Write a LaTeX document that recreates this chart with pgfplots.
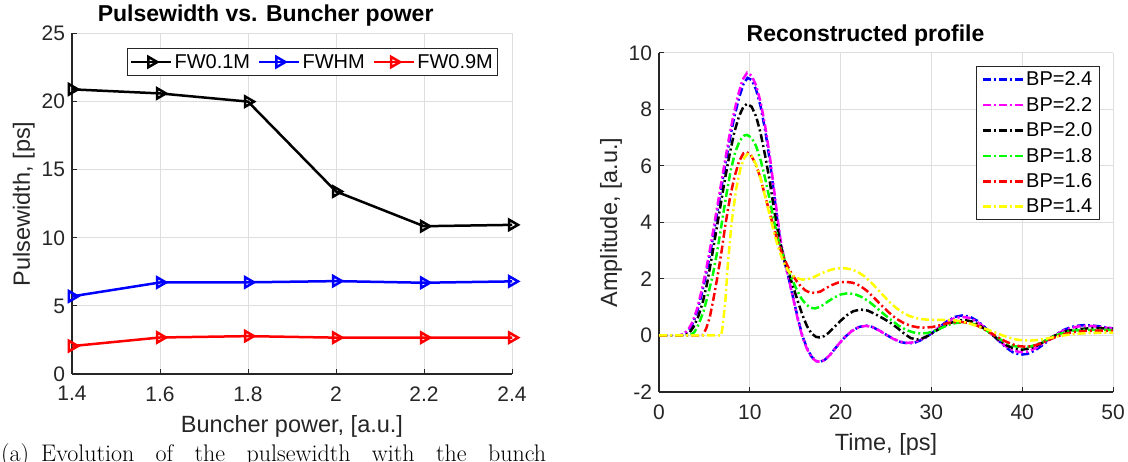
\documentclass[border=0pt]{standalone}
\usepackage{fontspec}
\usepackage{pgfplots}
\pgfplotsset{compat=1.18}
\newfontfamily\lsans{Liberation Sans}
\definecolor{axgray}{rgb}{0.15,0.15,0.15}
\definecolor{gridgray}{rgb}{0.87,0.87,0.87}
\definecolor{myyellow}{rgb}{1,1,0}
\definecolor{mygreen}{rgb}{0,1,0}
\definecolor{mymag}{rgb}{1,0,1}
\pgfplotsset{
  matlab/.style={
    scale only axis,
    axis lines=left,
    axis line style={-, draw=axgray, line width=1.2pt},
    tick align=inside,
    major tick length=5pt,
    tick style={draw=axgray, line width=1.0pt},
    grid=major,
    major grid style={draw=gridgray, line width=1pt},
    /pgf/number format/assume math mode=true,
    tick label style={font=\lsans\fontsize{21}{25}\selectfont, text=axgray},
    xticklabel style={yshift=-9pt},
    yticklabel style={xshift=-3.5pt},
    label style={font=\lsans\fontsize{23.5}{28}\selectfont, text=axgray},
    title style={font=\lsans\bfseries\fontsize{23}{27}\selectfont, text=black},
    legend style={font=\lsans\fontsize{20}{24}\selectfont, draw=axgray, line width=1pt, fill=white, text=black},
    legend cell align=left,
    legend image code/.code={\draw[mark repeat=2,mark phase=2,##1] plot coordinates {(0pt,0pt) (20pt,0pt) (40pt,0pt)};},
  },
  dd/.style={line width=2.5pt, dash pattern=on 8pt off 3pt on 2pt off 3pt},
}
\begin{document}
\begin{tikzpicture}[x=1pt,y=1pt]
\useasboundingbox (0,0) rectangle (1128,461);
\clip (0,0) rectangle (1128,461);

% ---------------- left axis ----------------
\begin{axis}[matlab,
  at={(72pt,87pt)}, anchor=south west, width=440pt, height=340.5pt,
  xmin=1.4, xmax=2.4, ymin=0, ymax=25,
  xtick={1.4,1.6,1.8,2.0,2.2,2.4}, xticklabels={1.4,1.6,1.8,2,2.2,2.4},
  ytick={0,5,10,15,20,25},
  title={Pulsewidth vs. Buncher power},
  title style={at={(axis description cs:0.44,1)}, anchor=base, yshift=5.5pt},
  xlabel={Buncher power, [a.u.]},
  xlabel style={at={(axis description cs:0.5,0)}, anchor=base, yshift=-58pt},
  ylabel={Pulsewidth, [ps]},
  ylabel style={at={(axis description cs:-0.0955,0.5)}, rotate=0, anchor=base},
  legend columns=3,
  legend style={at={(axis description cs:0.969,0.958)}, anchor=north east,
    inner ysep=4pt,
    /tikz/every even column/.append style={column sep=6pt}},
]
\addplot[black, line width=2.5pt, mark=triangle, mark size=6pt, mark options={rotate=-90, solid}]
  coordinates {(1.4,20.9) (1.6,20.6) (1.8,20.0) (2.0,13.4) (2.2,10.85) (2.4,10.95)};
\addlegendentry{FW0.1M}
\addplot[blue, line width=2.5pt, mark=triangle, mark size=6pt, mark options={rotate=-90, solid}]
  coordinates {(1.4,5.7) (1.6,6.72) (1.8,6.73) (2.0,6.82) (2.2,6.7) (2.4,6.8)};
\addlegendentry{FWHM}
\addplot[red, line width=2.5pt, mark=triangle, mark size=6pt, mark options={rotate=-90, solid}]
  coordinates {(1.4,2.05) (1.6,2.68) (1.8,2.78) (2.0,2.67) (2.2,2.67) (2.4,2.67)};
\addlegendentry{FW0.9M}
\end{axis}

% ---------------- right axis ----------------
\begin{axis}[matlab,
  at={(659pt,69pt)}, anchor=south west, width=454pt, height=339pt,
  xmin=0, xmax=50, ymin=-2, ymax=10,
  xtick={0,10,20,30,40,50}, ytick={-2,0,2,4,6,8,10},
  title={Reconstructed profile},
  title style={at={(axis description cs:0.455,1)}, anchor=base, yshift=5.5pt},
  xlabel={Time, [ps]},
  xlabel style={at={(axis description cs:0.5,0)}, anchor=base, yshift=-58pt},
  ylabel={Amplitude, [a.u.]},
  ylabel style={at={(axis description cs:-0.0925,0.5)}, rotate=0, anchor=base},
  legend style={at={(axis description cs:0.971,0.961)}, anchor=north east,
    row sep=6pt, inner ysep=3pt, inner xsep=5pt},
]
\addplot[blue, dd] coordinates {
(0,0) (2.3,0) (2.8,0.05) (3.3,0.2) (3.8,0.48) (4.3,0.95) (4.8,1.6) (5.3,2.35) (5.8,3.2) (6.3,4.15)
(6.8,5.1) (7.3,6.05) (7.8,6.95) (8.3,7.75) (8.8,8.4) (9.3,8.9) (9.75,9.12) (10.2,9.05) (10.7,8.7)
(11.2,8.1) (11.7,7.25) (12.2,6.2) (12.6,5.2) (13.0,4.15) (13.4,3.25) (13.8,2.65) (14.3,2.0) (14.8,1.3)
(15.3,0.6) (15.8,-0.02) (16.3,-0.45) (16.8,-0.75) (17.3,-0.9) (17.8,-0.93) (18.3,-0.85) (18.8,-0.7)
(19.3,-0.5) (19.8,-0.3) (20.5,-0.05) (21.2,0.15) (22.0,0.3) (22.8,0.35) (23.5,0.3) (24.3,0.17)
(25.0,0.03) (25.8,-0.12) (26.6,-0.23) (27.4,-0.28) (28.1,-0.26) (28.8,-0.17) (29.5,-0.05) (30.2,0.12)
(31.0,0.33) (31.8,0.52) (32.6,0.66) (33.4,0.71) (34.2,0.67) (35.0,0.53) (35.8,0.32) (36.6,0.07)
(37.4,-0.18) (38.2,-0.42) (39.0,-0.6) (39.8,-0.68) (40.6,-0.65) (41.4,-0.53) (42.2,-0.35) (43.0,-0.15)
(43.8,0.05) (44.6,0.2) (45.4,0.3) (46.2,0.35) (47.0,0.37) (47.8,0.35) (48.6,0.32) (49.4,0.28) (50,0.25)};
\addlegendentry{BP=2.4}
\addplot[mymag, dd] coordinates {
(0,0) (2.2,0) (2.7,0.05) (3.2,0.2) (3.7,0.48) (4.2,0.95) (4.7,1.6) (5.2,2.35) (5.7,3.2) (6.2,4.15)
(6.7,5.1) (7.2,6.05) (7.7,6.98) (8.2,7.8) (8.7,8.5) (9.2,9.05) (9.7,9.3) (10.2,9.2) (10.7,8.85)
(11.2,8.25) (11.7,7.4) (12.2,6.35) (12.6,5.35) (13.0,4.3) (13.4,3.35) (13.8,2.7) (14.3,2.0) (14.8,1.28)
(15.3,0.55) (15.8,-0.05) (16.3,-0.48) (16.8,-0.77) (17.3,-0.91) (17.8,-0.93) (18.3,-0.86) (18.8,-0.7)
(19.3,-0.5) (19.8,-0.3) (20.5,-0.05) (21.2,0.15) (22.0,0.3) (22.8,0.34) (23.5,0.3) (24.3,0.17)
(25.0,0.03) (25.8,-0.12) (26.6,-0.22) (27.4,-0.26) (28.1,-0.24) (28.8,-0.15) (29.5,-0.03) (30.2,0.13)
(31.0,0.32) (31.8,0.5) (32.6,0.62) (33.4,0.66) (34.2,0.62) (35.0,0.49) (35.8,0.3) (36.6,0.06)
(37.4,-0.17) (38.2,-0.38) (39.0,-0.53) (39.8,-0.59) (40.6,-0.57) (41.4,-0.46) (42.2,-0.3) (43.0,-0.12)
(43.8,0.05) (44.6,0.18) (45.4,0.27) (46.2,0.32) (47.0,0.34) (47.8,0.33) (48.6,0.3) (49.4,0.27) (50,0.24)};
\addlegendentry{BP=2.2}
\addplot[black, dd] coordinates {
(0,0) (2.8,0) (3.3,0.08) (3.8,0.3) (4.3,0.65) (4.8,1.15) (5.3,1.85) (5.8,2.75) (6.3,3.7) (6.8,4.65)
(7.3,5.6) (7.8,6.45) (8.3,7.2) (8.8,7.75) (9.3,8.1) (9.7,8.2) (10.2,8.1) (10.7,7.75) (11.2,7.15)
(11.7,6.35) (12.2,5.45) (12.6,4.6) (13.0,3.85) (13.4,3.2) (13.8,2.7) (14.3,2.2) (14.8,1.7) (15.3,1.2)
(15.8,0.72) (16.3,0.33) (16.8,0.07) (17.3,-0.05) (17.7,-0.07) (18.2,-0.02) (18.7,0.1) (19.3,0.3)
(20.0,0.52) (20.7,0.72) (21.4,0.86) (22.2,0.92) (23.0,0.88) (23.8,0.76) (24.6,0.62) (25.4,0.47)
(26.2,0.28) (27.0,0.07) (27.7,-0.09) (28.4,-0.14) (29.0,-0.1) (29.7,0.0) (30.4,0.15) (31.2,0.3)
(32.0,0.43) (32.8,0.52) (33.6,0.55) (34.4,0.5) (35.2,0.38) (36.0,0.2) (36.8,0.0) (37.6,-0.2)
(38.4,-0.37) (39.2,-0.47) (40.0,-0.5) (40.8,-0.46) (41.6,-0.36) (42.4,-0.22) (43.2,-0.07) (44.0,0.06)
(44.8,0.15) (45.6,0.2) (46.4,0.23) (47.2,0.25) (48.0,0.26) (49.0,0.25) (50,0.23)};
\addlegendentry{BP=2.0}
\addplot[mygreen, dd] coordinates {
(0,0) (3.4,0) (3.9,0.12) (4.4,0.42) (4.9,0.85) (5.4,1.45) (5.9,2.1) (6.4,2.95) (6.9,3.95) (7.4,4.95)
(7.9,5.85) (8.4,6.5) (8.9,6.9) (9.4,7.08) (9.7,7.1) (10.2,7.0) (10.7,6.7) (11.2,6.2) (11.7,5.55)
(12.2,4.8) (12.7,4.0) (13.2,3.3) (13.7,2.8) (14.2,2.35) (14.7,1.95) (15.2,1.6) (15.7,1.3) (16.2,1.1)
(16.7,0.98) (17.2,0.96) (17.8,1.02) (18.5,1.18) (19.2,1.33) (20.0,1.45) (20.8,1.5) (21.6,1.46)
(22.4,1.35) (23.2,1.18) (24.0,0.97) (24.8,0.75) (25.6,0.54) (26.4,0.35) (27.2,0.2) (28.0,0.11)
(28.8,0.07) (29.6,0.09) (30.4,0.17) (31.2,0.28) (32.0,0.39) (32.8,0.45) (33.6,0.47) (34.4,0.43)
(35.2,0.33) (36.0,0.19) (36.8,0.03) (37.6,-0.14) (38.4,-0.28) (39.2,-0.38) (40.0,-0.42) (40.8,-0.4)
(41.6,-0.32) (42.4,-0.2) (43.2,-0.07) (44.0,0.04) (44.8,0.12) (45.6,0.17) (46.4,0.19) (47.2,0.2)
(48.0,0.2) (49.0,0.2) (50,0.19)};
\addlegendentry{BP=1.8}
\addplot[red, dd] coordinates {
(0,0) (4.8,0) (5.2,0.25) (5.6,0.65) (6.0,1.3) (6.45,2.1) (6.9,3.0) (7.3,3.9) (7.8,4.85) (8.3,5.6)
(8.8,6.15) (9.3,6.45) (9.6,6.5) (10.1,6.4) (10.6,6.1) (11.1,5.65) (11.6,5.05) (12.1,4.45) (12.6,3.85)
(13.1,3.3) (13.6,2.85) (14.1,2.5) (14.6,2.2) (15.1,1.95) (15.6,1.75) (16.1,1.6) (16.6,1.52) (17.2,1.51)
(17.8,1.56) (18.4,1.68) (19.0,1.78) (19.7,1.87) (20.5,1.9) (21.3,1.87) (22.1,1.77) (22.9,1.58)
(23.7,1.33) (24.5,1.07) (25.3,0.82) (26.1,0.6) (26.9,0.45) (27.7,0.34) (28.5,0.29) (29.3,0.28)
(30.1,0.3) (30.9,0.36) (31.7,0.43) (32.5,0.47) (33.3,0.48) (34.1,0.45) (34.9,0.37) (35.7,0.25)
(36.5,0.1) (37.3,-0.06) (38.1,-0.2) (38.9,-0.31) (39.7,-0.38) (40.5,-0.4) (41.3,-0.36) (42.1,-0.27)
(42.9,-0.16) (43.7,-0.05) (44.5,0.04) (45.3,0.1) (46.1,0.14) (46.9,0.16) (47.7,0.17) (48.5,0.17) (50,0.16)};
\addlegendentry{BP=1.6}
\addplot[myyellow, dd] coordinates {
(0,0) (6.85,0) (7.0,0.3) (7.3,1.2) (7.6,2.6) (8.0,4.0) (8.5,5.2) (9.0,5.95) (9.4,6.3) (9.75,6.42)
(10.2,6.35) (10.7,6.05) (11.2,5.55) (11.7,4.9) (12.2,4.25) (12.7,3.6) (13.2,3.05) (13.7,2.6) (14.2,2.3)
(14.7,2.12) (15.2,2.03) (15.8,1.98) (16.4,1.99) (17.0,2.06) (17.7,2.17) (18.4,2.27) (19.1,2.34)
(19.8,2.38) (20.5,2.38) (21.2,2.34) (21.9,2.25) (22.6,2.1) (23.3,1.9) (24.0,1.66) (24.7,1.42)
(25.4,1.18) (26.1,0.98) (26.8,0.82) (27.5,0.7) (28.2,0.62) (28.9,0.58) (29.6,0.56) (30.3,0.55)
(31.0,0.55) (31.7,0.55) (32.4,0.54) (33.1,0.51) (33.8,0.46) (34.5,0.39) (35.3,0.31) (36.1,0.22)
(36.9,0.12) (37.7,0.02) (38.5,-0.07) (39.3,-0.14) (40.1,-0.17) (40.9,-0.18) (41.7,-0.16) (42.5,-0.12)
(43.3,-0.07) (44.1,-0.02) (44.9,0.02) (45.7,0.05) (46.5,0.07) (47.3,0.08) (48.1,0.09) (49.0,0.1) (50,0.1)};
\addlegendentry{BP=1.4}
\end{axis}

\node[anchor=base west, inner sep=0pt] at (1,0) {\fontsize{24}{28}\selectfont\makebox[545pt][s]{(a)\enspace Evolution of the pulsewidth with the bunch}};
\end{tikzpicture}
\end{document}
